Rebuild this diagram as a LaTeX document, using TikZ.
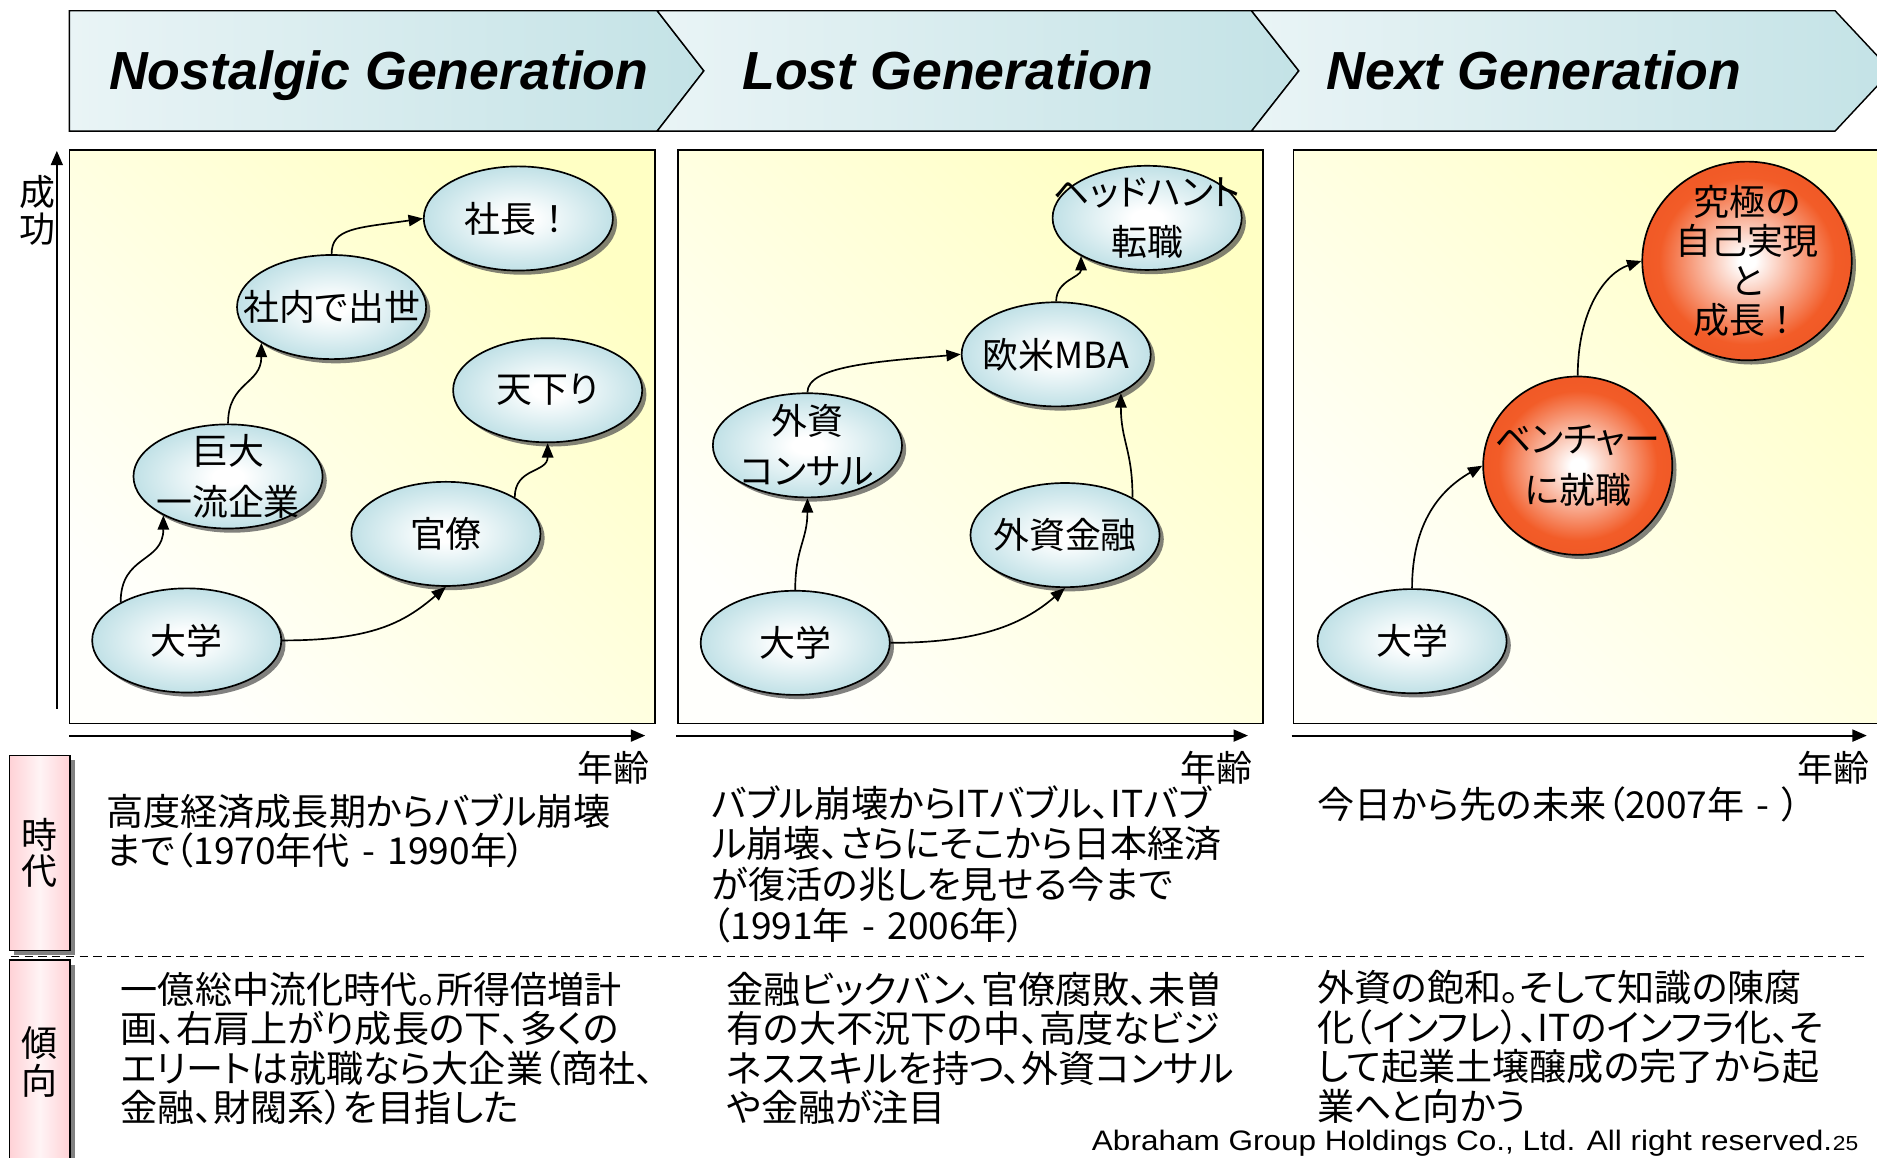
\documentclass[tikz,border=0pt]{standalone}
\usepackage{fontspec}
\setsansfont{Liberation Sans}
\newfontfamily\jp{Noto Sans CJK JP}[RawFeature={+palt}]
\newfontfamily\jpfw{Noto Sans CJK JP}
\newfontfamily\footfont{Liberation Sans}[FakeStretch=1.12]
\usetikzlibrary{shapes.geometric,arrows.meta,shadows}
\definecolor{bubteal}{RGB}{166,212,220}
\definecolor{bubor}{RGB}{242,92,40}
\definecolor{bubored}{RGB}{232,72,28}
\definecolor{hdrL}{RGB}{246,250,251}
\definecolor{hdrR}{RGB}{188,223,227}
\definecolor{panY}{RGB}{255,255,196}
\definecolor{panW}{RGB}{255,255,252}
\definecolor{pinkE}{RGB}{255,196,202}
\definecolor{pinkC}{RGB}{255,244,245}
\pgfdeclareradialshading{bubshade}{\pgfpointorigin}{color(0bp)=(white); color(4bp)=(white); color(34bp)=(bubteal); color(50bp)=(bubteal)}
\pgfdeclareradialshading{orshade}{\pgfpointorigin}{color(0bp)=(white); color(2bp)=(white); color(21bp)=(bubor); color(50bp)=(bubored)}
\pgfdeclarehorizontalshading{hdrshade}{100bp}{color(0bp)=(hdrL); color(8bp)=(hdrL); color(85bp)=(hdrR); color(100bp)=(hdrR)}
\pgfdeclarehorizontalshading{pinkshade}{100bp}{color(0bp)=(pinkE); color(15bp)=(pinkE); color(50bp)=(pinkC); color(85bp)=(pinkE); color(100bp)=(pinkE)}
\begin{document}
\begin{tikzpicture}[x=1bp,y=-1bp,
  bub/.style={ellipse, draw=black, line width=1.4bp, inner sep=0pt,
    minimum width=158bp, minimum height=87bp, shade, shading=bubshade,
    drop shadow={shadow xshift=3.5bp, shadow yshift=-3.5bp, fill=black!70, opacity=0.7}},
  orb/.style={bub, shading=orshade},
  lbl/.style={font=\jp\fontsize{30bp}{42bp}\selectfont, align=center, inner sep=0pt},
  conn/.style={line width=1.4bp, -{Triangle[length=12bp,width=9.5bp]}},
  axisline/.style={line width=1.6bp, -{Triangle[length=12bp,width=10bp]}},
  body/.style={font=\jp\fontsize{31bp}{33bp}\selectfont, align=left, text width=560bp, inner sep=0pt, anchor=base west},
  panel/.style={draw=black, line width=1.5bp, top color=panY, bottom color=panW, shading angle=-45},
  chev/.style={draw=black, line width=1.2bp, shading=hdrshade, shading angle=0},
  hdr/.style={font=\sffamily\bfseries\itshape\fontsize{44.8bp}{50bp}\selectfont, anchor=base west, inner sep=0pt},
  pinkbox/.style={draw=black, line width=1.3bp, shade, shading=pinkshade, minimum width=50.5bp, inner sep=0pt,
    align=center, font=\jp\fontsize{30bp}{30bp}\selectfont,
    drop shadow={shadow xshift=4bp, shadow yshift=-4bp, fill=black!70, opacity=0.7}},
  dashline/.style={line width=1.4bp, dash pattern=on 7bp off 4.5bp}
]
\useasboundingbox (0,0) rectangle (1568,967);
\clip (0,0) rectangle (1568,967);
\fill[white] (0,0) rectangle (1568,967);

% header chevrons
\shadedraw[chev] (58,9) -- (549,9) -- (588,59.2) -- (549,109.5) -- (58,109.5) -- cycle;
\shadedraw[chev] (549,9) -- (1045.5,9) -- (1085,59.2) -- (1045.5,109.5) -- (549,109.5) -- (588,59.2) -- cycle;
\shadedraw[chev] (1045.5,9) -- (1533,9) -- (1580,59.2) -- (1533,109.5) -- (1045.5,109.5) -- (1085,59.2) -- cycle;
\node[hdr] (h1) at (91,75) {Nostalgic Generation};
\node[hdr] (h2) at (620,75) {Lost Generation};
\node[hdr] (h3) at (1108,75) {Next Generation};

% panels
\shadedraw[panel] (58,125) rectangle (547,604.3);
\shadedraw[panel] (566.3,125) rectangle (1055,604.3);
\shadedraw[panel] (1080.5,125) rectangle (1600,604.3);

% axes
\coordinate (yb) at (47.5,592);
\coordinate (yt) at (47.5,126);
\draw[axisline] (yb) -- (yt);
\node[lbl, font=\jp\fontsize{30bp}{31bp}\selectfont] (seiko) at (31,176) {成\\功};
\coordinate (x1a) at (58,614.5);  \coordinate (x1b) at (539,614.5);
\coordinate (x2a) at (565,614.5); \coordinate (x2b) at (1042.5,614.5);
\coordinate (x3a) at (1079,614.5); \coordinate (x3b) at (1559.5,614.5);
\draw[axisline] (x1a) -- (x1b);
\draw[axisline] (x2a) -- (x2b);
\draw[axisline] (x3a) -- (x3b);
\node[lbl, anchor=east] (age1) at (543,641) {年齢};
\node[lbl, anchor=east] (age2) at (1046.5,641) {年齢};
\node[lbl, anchor=east] (age3) at (1561.5,641) {年齢};

% panel 1 bubbles
\node[bub] (a1) at (156,535) {};
\node[bub] (a2) at (190.5,398) {};
\node[bub] (a3) at (277,256.5) {};
\node[bub] (a4) at (433,182.5) {};
\node[bub] (a5) at (372.5,446) {};
\node[bub] (a6) at (457.5,326) {};
% panel 2 bubbles
\node[bub] (b1) at (664.3,537) {};
\node[bub] (b2) at (674.5,372) {};
\node[bub] (b3) at (882.3,296) {};
\node[bub] (b4) at (958.3,182) {};
\node[bub] (b5) at (889.7,447) {};
% panel 3 bubbles
\node[bub] (c1) at (1179.6,535.6) {};
\node[orb, minimum width=158bp, minimum height=149bp] (c2) at (1318,389) {};
\node[orb, minimum width=175bp, minimum height=166bp] (c3) at (1459.4,218) {};

% bubble texts
\node[lbl] (a1t) at (a1) {大学};
\node[lbl] (a2t) at (a2) {巨大\\一流企業};
\node[lbl] (a3t) at (a3) {社内で出世};
\node[lbl] (a4t) at (a4) {社長{\jpfw ！}};
\node[lbl] (a5t) at (a5) {官僚};
\node[lbl] (a6t) at (a6) {天下り};
\node[lbl] (b1t) at (b1) {大学};
\node[lbl] (b2t) at (b2) {外資\\コンサル};
\node[lbl] (b3t) at (b3) {欧米MBA};
\node[lbl] (b4t) at (b4) {ヘッドハント\\転職};
\node[lbl] (b5t) at (b5) {外資金融};
\node[lbl] (c1t) at (c1) {大学};
\node[lbl] (c2t) at (c2) {ベンチャー\\に就職};
\node[lbl, font=\jp\fontsize{30bp}{33bp}\selectfont] (c3t) at (c3) {究極の\\自己実現\\と\\成長{\jpfw ！}};

% connectors
\draw[conn] (a1.150) .. controls +(0,-40) and +(0,40) .. (a2.211);
\draw[conn] (a2.north) .. controls +(0,-35) and +(0,35) .. (a3.207);
\draw[conn] (a3.north) .. controls +(0,-22) and +(-55,8) .. (a4.west);
\draw[conn] (a1.east) .. controls +(75,0) and +(-35,30) .. (a5.south);
\draw[conn] (a5.28) .. controls +(0,-25) and +(0,25) .. (a6.south);
\draw[conn] (b1.north) .. controls +(0,-35) and +(0,35) .. (b2.south);
\draw[conn] (b2.north) .. controls +(0,-22) and +(-70,6) .. (b3.west);
\draw[conn] (b1.east) .. controls +(75,0) and +(-35,30) .. (b5.south);
\draw[conn] (b5.29) .. controls +(0,-40) and +(0,40) .. (b3.329);
\draw[conn] (b3.north) .. controls +(0,-18) and +(0,18) .. (b4.210);
\draw[conn] (c1.north) .. controls +(0,-55) and +(-35,20) .. (c2.west);
\draw[conn] (c2.north) .. controls +(0,-55) and +(-30,10) .. (c3.west);

% row labels
\node[pinkbox, minimum height=163bp] (jidai) at (33.2,712.5) {時\\代};
\node[pinkbox, minimum height=170bp, font=\jp\fontsize{30bp}{32bp}\selectfont] (keiko) at (33.2,887) {傾\\向};
\coordinate (dl) at (9,799);
\coordinate (dr) at (1558,799);
\draw[dashline] (dl) -- (dr);

% era texts
\node[body] (e1) at (88.7,689.5) {高度経済成長期からバブル崩壊\\まで（1970年代 - 1990年）};
\node[body, font=\jp\fontsize{31bp}{34bp}\selectfont] (e2) at (594.5,682.5) {バブル崩壊からITバブル、ITバブ\\ル崩壊、さらにそこから日本経済\\が復活の兆しを見せる今まで\\（1991年 - 2006年）};
\node[body] (e3) at (1100,683.5) {今日から先の未来（2007年 - ）};
% trend texts
\node[body] (t1) at (100.7,838) {一億総中流化時代。所得倍増計\\画、右肩上がり成長の下、多くの\\エリートは就職なら大企業（商社、\\金融、財閥系）を目指した};
\node[body] (t2) at (606.5,838) {金融ビックバン、官僚腐敗、未曽\\有の大不況下の中、高度なビジ\\ネススキルを持つ、外資コンサル\\や金融が注目};
\node[body] (t3) at (1100,837) {外資の飽和。そして知識の陳腐\\化（インフレ）、ITのインフラ化、そ\\して起業土壌醸成の完了から起\\業へと向かう};

% footer
\node[anchor=base west, inner sep=0pt, font=\footfont\fontsize{23.5bp}{26bp}\selectfont] (foot) at (912,961) {Abraham Group Holdings Co., Ltd. All right reserved.};
\node[anchor=base west, inner sep=0pt, font=\footfont\fontsize{17bp}{18bp}\selectfont] (pg) at (1531,961) {25};
\end{tikzpicture}
\end{document}
